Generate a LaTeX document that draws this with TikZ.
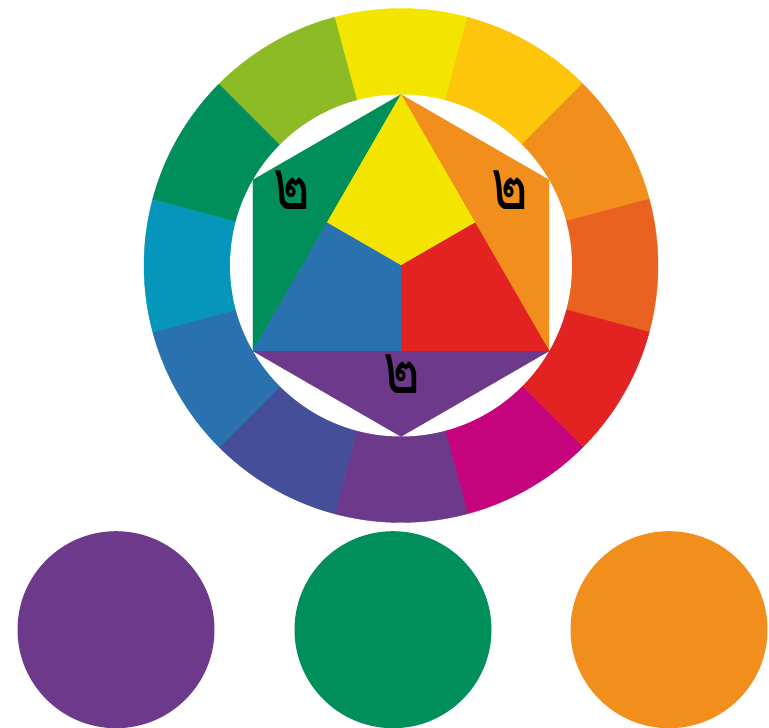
\documentclass[tikz,border=0pt]{standalone}
\usepackage{fontspec}
\newfontfamily\thaifont[Script=Thai]{Loma}
\usetikzlibrary{calc}
\definecolor{cY}{HTML}{F4E500}
\definecolor{cYO}{HTML}{FDC60B}
\definecolor{cO}{HTML}{F18E1C}
\definecolor{cRO}{HTML}{EA621F}
\definecolor{cR}{HTML}{E32322}
\definecolor{cM}{HTML}{C4037D}
\definecolor{cV}{HTML}{6D398B}
\definecolor{cBV}{HTML}{444E99}
\definecolor{cB}{HTML}{2A71B0}
\definecolor{cBG}{HTML}{0696BB}
\definecolor{cG}{HTML}{008E5B}
\definecolor{cYG}{HTML}{8CBB26}
\tikzset{
  digit/.style={font=\thaifont\fontsize{56}{56}\selectfont, text=black, inner sep=0pt, yscale=1.25},
  swatch/.style={circle, minimum size=197pt, inner sep=0pt},
}
\begin{document}
\begin{tikzpicture}[x=1pt,y=1pt]
\useasboundingbox (0,0) rectangle (769,728);
\coordinate (C) at (401,462.5);
\def\Ro{257}
\def\Ri{171}
\def\Rh{171}
% outer ring
\foreach \col [count=\i from 0] in {cY,cYO,cO,cRO,cR,cM,cV,cBV,cB,cBG,cG,cYG} {
  \pgfmathsetmacro\aa{90-30*\i+15}
  \pgfmathsetmacro\ab{90-30*\i-15}
  \filldraw[fill=\col, draw=\col, line width=0.4pt] (C) -- ($(C)+(\aa:\Ro)$) arc[start angle=\aa, end angle=\ab, radius=\Ro] -- cycle;
}
\fill[white] (C) circle[radius=\Ri];
% hexagon vertices
\foreach \a in {90,30,330,270,210,150} {
  \coordinate (H\a) at ($(C)+(\a:\Rh)$);
}
\coordinate (Ml) at ($(H90)!0.5!(H210)$);
\coordinate (Mr) at ($(H90)!0.5!(H330)$);
\coordinate (Mb) at ($(H210)!0.5!(H330)$);
% secondary triangles
\filldraw[fill=cG, draw=cG, line width=0.3pt] (H90) -- (H150) -- (H210) -- cycle;
\filldraw[fill=cO, draw=cO, line width=0.3pt] (H90) -- (H30) -- (H330) -- cycle;
\filldraw[fill=cV, draw=cV, line width=0.3pt] (H210) -- (H270) -- (H330) -- cycle;
% primary areas
\filldraw[fill=cY, draw=cY, line width=0.3pt] (H90) -- (Mr) -- (C) -- (Ml) -- cycle;
\filldraw[fill=cR, draw=cR, line width=0.3pt] (H330) -- (Mb) -- (C) -- (Mr) -- cycle;
\filldraw[fill=cB, draw=cB, line width=0.3pt] (H210) -- (Ml) -- (C) -- (Mb) -- cycle;
% labels
\node[digit] (lg) at (292,538) {๒};
\node[digit] (lo) at (510,538) {๒};
\node[digit] (lv) at (402,354) {๒};
% swatches
\node[swatch, fill=cV] (sv) at (116,98.3) {};
\node[swatch, fill=cG] (sg) at (393,98.3) {};
\node[swatch, fill=cO] (so) at (669,98.3) {};
\end{tikzpicture}
\end{document}
